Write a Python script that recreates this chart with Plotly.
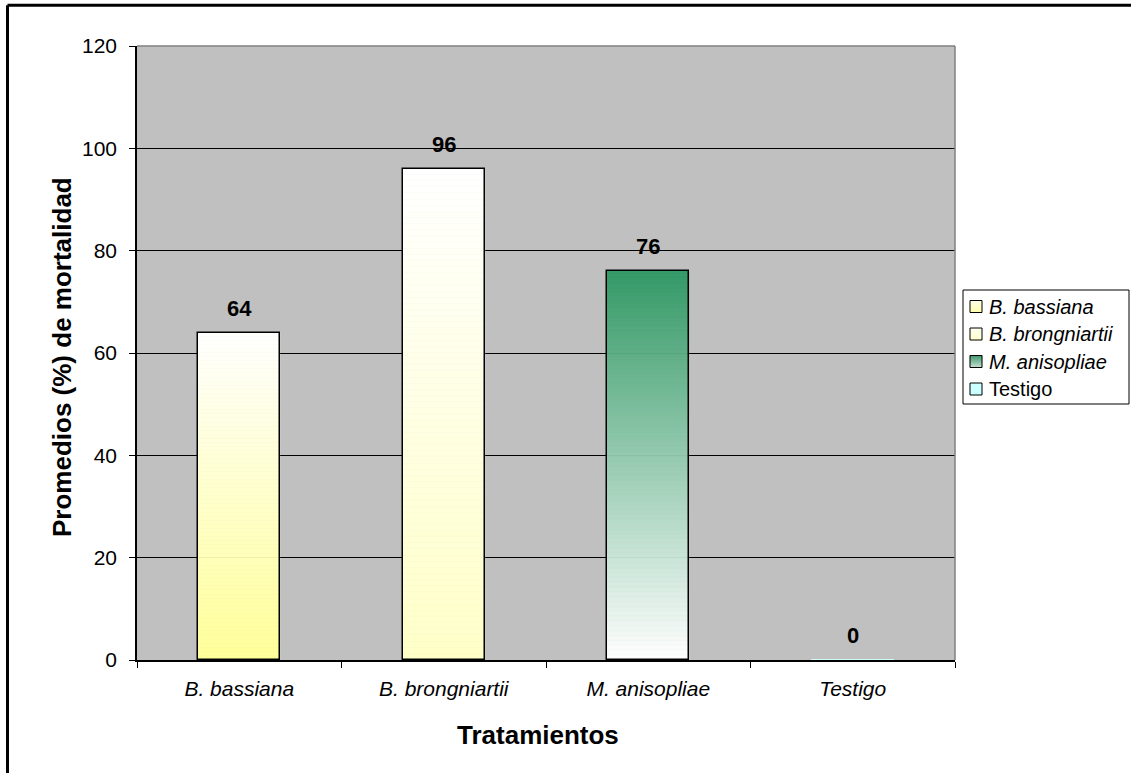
import plotly.graph_objects as go

categories = ["B. bassiana", "B. brongniartii", "M. anisopliae", "Testigo"]
values = [64, 96, 76, 0]
tick_labels = ["<i>B. bassiana</i>", "<i>B. brongniartii</i>", "<i>M. anisopliae</i>", "<i>Testigo</i>"]
legend_names = ["<i>B. bassiana</i>", "<i>B. brongniartii</i>", "<i>M. anisopliae</i>", "Testigo"]

# gradient end colours (bottom, top) per bar
bottom_colors = [(255, 255, 153), (255, 255, 200), (255, 255, 255), (204, 255, 255)]
top_colors = [(255, 255, 255), (255, 255, 255), (51, 153, 102), (204, 255, 255)]
# legend swatch gradients (bottom, top)
swatch_bottom = [(255, 255, 170), (255, 255, 205), (200, 225, 212), (204, 255, 255)]
swatch_top = [(255, 255, 230), (255, 255, 240), (60, 150, 105), (204, 255, 255)]

FONT = "Liberation Sans, Arial, sans-serif"
N = 80
W = 0.4

# plot-area geometry (pixels) used for positioning decorations
L, R, T, B = 137, 955, 46, 660
def px(x):
    return (x - L) / (R - L)
def py(y):
    return (B - y) / (B - T)

fig = go.Figure()

def mix(c0, c1, t):
    return "rgb(%d,%d,%d)" % tuple(round(a + (b - a) * t) for a, b in zip(c0, c1))

for i in range(N):
    t = (i + 0.5) / N
    cols = [mix(b, tp, t) for b, tp in zip(bottom_colors, top_colors)]
    fig.add_trace(go.Bar(
        x=categories, y=[v / N for v in values], base=[v * i / N for v in values],
        width=W, marker=dict(color=cols, line=dict(color=cols, width=0.6)),
        showlegend=False, hoverinfo="skip"))

# outline
fig.add_trace(go.Bar(x=categories, y=values, width=W,
                     marker=dict(color="rgba(0,0,0,0)",
                                 line=dict(color="black", width=[1.5 if v > 0 else 0 for v in values])),
                     showlegend=False, hoverinfo="skip"))

annotations = []
for c, v in zip(categories, values):
    annotations.append(dict(x=c, y=v, xref="x", yref="y", text="<b>%d</b>" % v,
                            showarrow=False, yanchor="bottom", yshift=10,
                            font=dict(family=FONT, size=22, color="black")))
annotations.append(dict(x=px(538), y=py(735), xref="paper", yref="paper", text="<b>Tratamientos</b>",
                        showarrow=False, xanchor="center", yanchor="middle",
                        font=dict(family=FONT, size=26, color="black")))
annotations.append(dict(x=px(62), y=py(357), xref="paper", yref="paper",
                        text="<b>Promedios (%) de mortalidad</b>", textangle=-90,
                        showarrow=False, xanchor="center", yanchor="middle",
                        font=dict(family=FONT, size=26, color="black")))

shapes = [
    dict(type="line", xref="paper", yref="paper", x0=0, x1=1, y0=1, y1=1,
         line=dict(color="#808080", width=1.5), layer="above"),
    dict(type="line", xref="paper", yref="paper", x0=1, x1=1, y0=0, y1=1,
         line=dict(color="#808080", width=1.5), layer="above"),
    # outer chart frame (top and left)
    dict(type="line", xref="paper", yref="paper", x0=px(7.5), x1=px(1200), y0=py(5.3), y1=py(5.3),
         line=dict(color="black", width=3)),
    dict(type="line", xref="paper", yref="paper", x0=px(7.5), x1=px(7.5), y0=py(5.3), y1=py(850),
         line=dict(color="black", width=3)),
    # legend box
    dict(type="rect", xref="paper", yref="paper", x0=px(963), x1=px(1129), y0=py(290), y1=py(404),
         line=dict(color="black", width=1), fillcolor="white"),
]

# legend items
row_y = [306.5, 334, 361.5, 389]
for i, (name, y) in enumerate(zip(legend_names, row_y)):
    S = 6
    x0, x1, ytop, ybot = 970, 982, y - 6, y + 6
    for k in range(S):
        t = (k + 0.5) / S
        c = mix(swatch_bottom[i], swatch_top[i], t)
        yb = ybot - (ybot - ytop) * k / S
        yt = ybot - (ybot - ytop) * (k + 1) / S
        shapes.append(dict(type="rect", xref="paper", yref="paper", x0=px(x0), x1=px(x1),
                           y0=py(yb), y1=py(yt), line=dict(width=0.5, color=c), fillcolor=c))
    shapes.append(dict(type="rect", xref="paper", yref="paper", x0=px(x0), x1=px(x1),
                       y0=py(ybot), y1=py(ytop), line=dict(color="black", width=1)))
    annotations.append(dict(x=px(987), y=py(y), xref="paper", yref="paper", text=name,
                            showarrow=False, xanchor="left", yanchor="middle",
                            font=dict(family=FONT, size=20, color="black")))

fig.update_layout(
    width=1131, height=773,
    margin=dict(l=L, r=1131 - R, t=T, b=773 - B),
    paper_bgcolor="white", plot_bgcolor="#C0C0C0",
    barmode="overlay", bargap=0,
    font=dict(family=FONT, size=21, color="black"),
    showlegend=False,
    annotations=annotations, shapes=shapes,
)
fig.update_xaxes(type="category", categoryorder="array", categoryarray=categories,
                 tickmode="array", tickvals=categories, ticktext=tick_labels,
                 tickson="boundaries", ticks="outside", ticklen=6, tickcolor="black",
                 showline=True, linecolor="black", linewidth=1.5, showgrid=False,
                 ticklabelstandoff=9, tickfont=dict(family=FONT, size=21))
fig.update_yaxes(range=[0, 120], dtick=20, tick0=0, ticks="outside", ticklen=6, tickcolor="black",
                 showline=True, linecolor="black", linewidth=1.5,
                 showgrid=True, gridcolor="black", gridwidth=1, zeroline=False,
                 ticklabelstandoff=8, tickfont=dict(family=FONT, size=21))

fig.write_html("out.html")
